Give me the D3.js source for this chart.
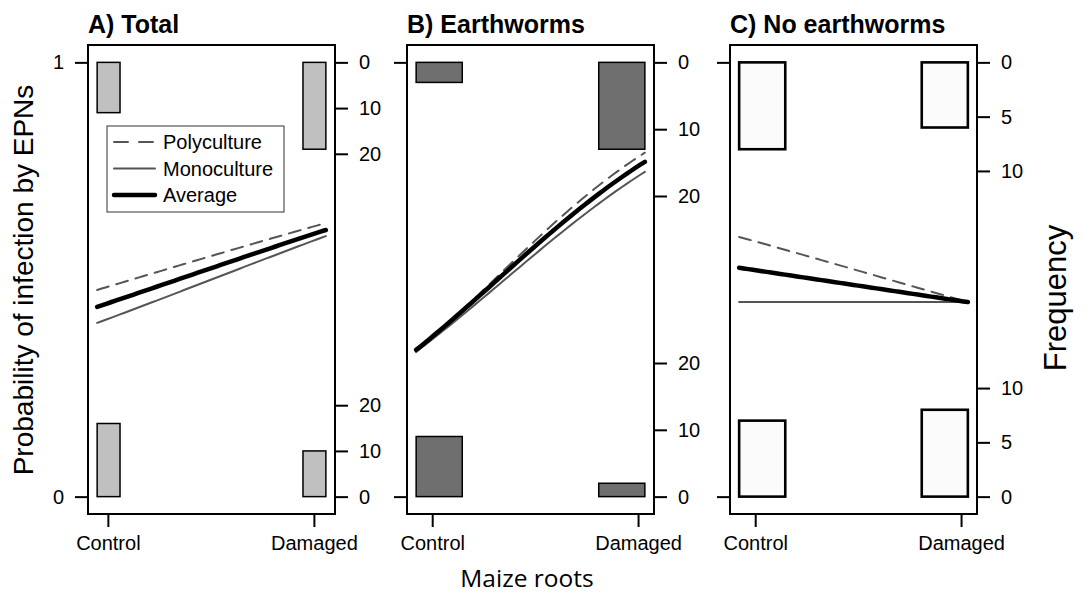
<!DOCTYPE html>
<html><head><meta charset="utf-8">
<script src="https://cdn.jsdelivr.net/npm/d3@7"></script>
<style>
html,body{margin:0;padding:0;background:#fff;}
text{font-family:"Liberation Sans",Arial,sans-serif;}
</style></head>
<body><svg id="c" width="1086" height="595"></svg>
<script>
// ---------- data ----------
const categories = ["Control", "Damaged"];
const panelTitles = ["A) Total", "B) Earthworms", "C) No earthworms"];
const seriesNames = ["Polyculture", "Monoculture", "Average"];

// counts of non-infected (top histograms) and infected (bottom histograms)
const totalUninfected = [11, 19];
const totalInfected = [16, 10];
const earthwormUninfected = [3, 13];
const earthwormInfected = [9, 2];
const noEarthwormUninfected = [8, 6];
const noEarthwormInfected = [7, 8];

// fitted probabilities at the two ends of each curve (Control end, Damaged end)
const totalPoly = [0.476, 0.630];
const totalMono = [0.400, 0.600];
const totalAvg = [0.437, 0.614];
const earthwormPoly = [0.333, 0.792];
const earthwormMono = [0.334, 0.748];
const earthwormAvg = [0.338, 0.771];
const noEarthwormPoly = [0.598, 0.448];
const noEarthwormMono = [0.448, 0.448];
const noEarthwormAvg = [0.527, 0.448];

// jittered data ranges of the x variable (0 = Control, 1 = Damaged)
const totalXRange = [-0.052, 1.058];
const earthwormXRange = [-0.078, 1.033];
const noEarthwormXRange = [-0.078, 1.033];

const probTicks = [0, 1];
const totalFreqTicks = [0, 10, 20];
const earthwormFreqTicks = [0, 10, 20];
const noEarthwormFreqTicks = [0, 5, 10];

// ---------- layout / styles ----------
const panels = [
  {title: panelTitles[0], unin: totalUninfected, inf: totalInfected, curves: [totalPoly, totalMono, totalAvg],
   xr: totalXRange, ticks: totalFreqTicks, binW: 0.111, left: 88, fill: "#c0c0c0", bsw: 1.5, showProb: true},
  {title: panelTitles[1], unin: earthwormUninfected, inf: earthwormInfected, curves: [earthwormPoly, earthwormMono, earthwormAvg],
   xr: earthwormXRange, ticks: earthwormFreqTicks, binW: 0.224, left: 407, fill: "#6f6f6f", bsw: 1.5, showProb: false},
  {title: panelTitles[2], unin: noEarthwormUninfected, inf: noEarthwormInfected, curves: [noEarthwormPoly, noEarthwormMono, noEarthwormAvg],
   xr: noEarthwormXRange, ticks: noEarthwormFreqTicks, binW: 0.224, left: 730, fill: "#fbfbfb", bsw: 2.6, showProb: false}
];
const lineStyles = [
  {stroke: "#555", width: 2, dash: "12,8"},
  {stroke: "#555", width: 2, dash: null},
  {stroke: "#000", width: 4.5, dash: null}
];

const svg = d3.select("#c");
svg.append("rect").attr("width", 1086).attr("height", 595).attr("fill", "#fff");
const plotTop = 45, plotBottom = 514, boxW = 247;
const y = d3.scaleLinear().domain([-0.04, 1.04]).range([plotBottom, plotTop]);

function logisticPts(xr, p) {
  const lg = q => Math.log(q / (1 - q));
  const a0 = lg(p[0]), a1 = lg(p[1]);
  const xs = d3.range(0, 51).map(i => xr[0] + (xr[1] - xr[0]) * i / 50);
  return xs.map(xv => {
    const t = (xv - xr[0]) / (xr[1] - xr[0]);
    const l = a0 + (a1 - a0) * t;
    return [xv, 1 / (1 + Math.exp(-l))];
  });
}

panels.forEach((P, pi) => {
  const ext = (P.xr[1] - P.xr[0]) * 0.04;
  const x = d3.scaleLinear().domain([P.xr[0] - ext, P.xr[1] + ext]).range([P.left, P.left + boxW]);
  const g = svg.append("g");
  const maxCount = d3.max(P.unin.concat(P.inf));
  const unit = 0.2 / maxCount;
  const binsX = [[P.xr[0], P.xr[0] + P.binW], [P.xr[1] - P.binW, P.xr[1]]];

  // histograms
  P.unin.forEach((c, i) => {
    g.append("rect").attr("x", x(binsX[i][0])).attr("width", x(binsX[i][1]) - x(binsX[i][0]))
      .attr("y", y(1)).attr("height", y(1 - c * unit) - y(1))
      .attr("fill", P.fill).attr("stroke", "#000").attr("stroke-width", P.bsw);
  });
  P.inf.forEach((c, i) => {
    g.append("rect").attr("x", x(binsX[i][0])).attr("width", x(binsX[i][1]) - x(binsX[i][0]))
      .attr("y", y(c * unit)).attr("height", y(0) - y(c * unit))
      .attr("fill", P.fill).attr("stroke", "#000").attr("stroke-width", P.bsw);
  });

  // curves
  const line = d3.line().x(d => x(d[0])).y(d => y(d[1]));
  P.curves.forEach((cv, k) => {
    const s = lineStyles[k];
    g.append("path").attr("d", line(logisticPts(P.xr, cv))).attr("fill", "none")
      .attr("stroke", s.stroke).attr("stroke-width", s.width)
      .attr("stroke-dasharray", s.dash).attr("stroke-linecap", "round");
  });

  // box
  g.append("rect").attr("x", P.left).attr("y", plotTop).attr("width", boxW).attr("height", plotBottom - plotTop)
    .attr("fill", "none").attr("stroke", "#000").attr("stroke-width", 2);

  // left axis
  const la = g.append("g").attr("transform", `translate(${P.left},0)`)
    .call(d3.axisLeft(y).tickValues(probTicks).tickSize(13).tickPadding(11)
      .tickFormat(d => P.showProb ? d3.format("d")(d) : ""));
  // bottom axis
  const ba = g.append("g").attr("transform", `translate(0,${plotBottom})`)
    .call(d3.axisBottom(x).tickValues([0, 1]).tickSize(13).tickPadding(9).tickFormat(d => categories[d]));
  // right axes (frequency)
  const topCount = d3.scaleLinear().domain([0, 1 / unit]).range([y(1), y(0)]);
  const botCount = d3.scaleLinear().domain([0, 1 / unit]).range([y(0), y(1)]);
  const ra1 = g.append("g").attr("transform", `translate(${P.left + boxW},0)`)
    .call(d3.axisRight(topCount).tickValues(P.ticks).tickSize(13).tickPadding(11));
  const ra2 = g.append("g").attr("transform", `translate(${P.left + boxW},0)`)
    .call(d3.axisRight(botCount).tickValues(P.ticks).tickSize(13).tickPadding(11));
  [la, ba, ra1, ra2].forEach(a => {
    a.select(".domain").remove();
    a.selectAll(".tick line").attr("stroke", "#000").attr("stroke-width", 2);
    a.selectAll(".tick text").attr("fill", "#000").style("font-size", "20px")
      .style("font-family", '"Liberation Sans", Arial, sans-serif');
  });

  // title
  g.append("text").attr("x", P.left).attr("y", 33).text(P.title)
    .style("font-size", "25px").style("font-weight", "bold");
});

// legend
const lgd = svg.append("g");
lgd.append("rect").attr("x", 107).attr("y", 126).attr("width", 177).attr("height", 86)
  .attr("fill", "#fff").attr("stroke", "#333").attr("stroke-width", 1);
seriesNames.forEach((n, k) => {
  const yy = 142 + k * 26.5;
  const s = lineStyles[k];
  lgd.append("line").attr("x1", 114).attr("x2", 155).attr("y1", yy).attr("y2", yy)
    .attr("stroke", s.stroke).attr("stroke-width", s.width).attr("stroke-dasharray", s.dash ? "14,11" : null)
    .attr("stroke-linecap", "round");
  lgd.append("text").attr("x", 163).attr("y", yy).attr("dy", "0.35em").text(n).style("font-size", "20px");
});

// axis titles
svg.append("text").attr("transform", "translate(33,280) rotate(-90)").attr("text-anchor", "middle")
  .text("Probability of infection by EPNs").style("font-size", "28px");
svg.append("text").attr("transform", "translate(1066,298) rotate(-90)").attr("text-anchor", "middle")
  .text("Frequency").style("font-size", "31px");
svg.append("text").attr("x", 527).attr("y", 587).attr("text-anchor", "middle")
  .text("Maize roots").style("font-size", "24.5px").style("font-family", '"Open Sans", sans-serif');
</script></body></html>
